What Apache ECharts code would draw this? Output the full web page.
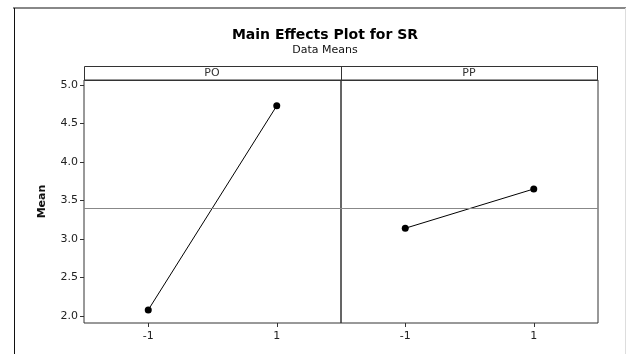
<!DOCTYPE html>
<html lang="en">
<head>
    <meta charset="utf-8" />
    <title>Main Effects Plot for SR</title>
    <script src="https://cdn.jsdelivr.net/npm/echarts@6/dist/echarts.min.js"></script>
    <style>
        html, body { margin: 0; padding: 0; background: #fff; }
        #chart { width: 626px; height: 354px; }
    </style>
</head>
<body>
    <div id="chart"></div>
    <script>
        // data
        var factors = ['PO', 'PP'];
        var levels = [-1, 1];
        var poMeans = [2.08, 4.73];
        var ppMeans = [3.14, 3.65];
        var grandMean = 3.40;
        var yTicks = [2.0, 2.5, 3.0, 3.5, 4.0, 4.5, 5.0];

        var font = 'DejaVu Sans';
        var myChart = echarts.init(document.getElementById('chart'));

        function pts(means) {
            return levels.map(function (lv, i) { return [lv, means[i]]; });
        }

        function xAxisFor(idx) {
            return {
                type: 'value', gridIndex: idx, min: -2, max: 2, position: 'bottom',
                axisLine: { show: false, onZero: false },
                splitLine: { show: false },
                axisTick: { show: true, length: 4, customValues: levels, lineStyle: { color: '#333' } },
                axisLabel: { customValues: levels, color: '#222', fontFamily: font, fontSize: 11, margin: 8 }
            };
        }

        function yAxisFor(idx) {
            return {
                type: 'value', gridIndex: idx, min: 1.91, max: 5.065, position: 'left',
                axisLine: { show: false, onZero: false },
                splitLine: { show: false },
                axisTick: { show: idx === 0, length: 4, customValues: yTicks, lineStyle: { color: '#333' } },
                axisLabel: {
                    show: idx === 0, customValues: yTicks, color: '#222', fontFamily: font, fontSize: 11, margin: 6,
                    formatter: function (v) { return v.toFixed(1); }
                },
                name: idx === 0 ? 'Mean' : '',
                nameLocation: 'middle', nameGap: 36, nameRotate: 90,
                nameTextStyle: { fontFamily: font, fontSize: 11, fontWeight: 'bold', color: '#111' }
            };
        }

        function seriesFor(idx, means) {
            return {
                type: 'line', xAxisIndex: idx, yAxisIndex: idx,
                data: pts(means),
                symbol: 'circle', symbolSize: 7,
                itemStyle: { color: '#000' },
                lineStyle: { color: '#000', width: 1 },
                animation: false,
                markLine: {
                    silent: true, symbol: 'none', label: { show: false },
                    lineStyle: { color: '#888', width: 1, type: 'solid' },
                    data: [{ yAxis: grandMean }]
                }
            };
        }

        var option = {
            backgroundColor: '#fff',
            animation: false,
            title: [
                { text: 'Main Effects Plot for SR', left: 320, top: 23, textAlign: 'center',
                  textStyle: { fontFamily: font, fontSize: 14, fontWeight: 'bold', color: '#000' } },
                { text: 'Data Means', left: 320, top: 40, textAlign: 'center',
                  textStyle: { fontFamily: font, fontSize: 11, fontWeight: 'normal', color: '#111' } },
                { text: factors[0], left: 212, top: 66, textAlign: 'center', padding: 0,
                  textStyle: { fontFamily: font, fontSize: 11, fontWeight: 'normal', color: '#333', lineHeight: 14 } },
                { text: factors[1], left: 469, top: 66, textAlign: 'center', padding: 0,
                  textStyle: { fontFamily: font, fontSize: 11, fontWeight: 'normal', color: '#333', lineHeight: 14 } }
            ],
            grid: [
                { left: 84, top: 80, width: 257, height: 243, show: true, borderColor: '#333', borderWidth: 1, backgroundColor: 'transparent' },
                { left: 341, top: 80, width: 257, height: 243, show: true, borderColor: '#333', borderWidth: 1, backgroundColor: 'transparent' }
            ],
            xAxis: [xAxisFor(0), xAxisFor(1)],
            yAxis: [yAxisFor(0), yAxisFor(1)],
            series: [seriesFor(0, poMeans), seriesFor(1, ppMeans)],
            graphic: [
                // strip header
                { type: 'rect', shape: { x: 84.5, y: 66.5, width: 513, height: 14 },
                  style: { fill: 'none', stroke: '#333', lineWidth: 1 } },
                { type: 'line', shape: { x1: 341.5, y1: 66, x2: 341.5, y2: 80 },
                  style: { stroke: '#333', lineWidth: 1 } },
                // outer frame
                { type: 'line', shape: { x1: 13, y1: 8, x2: 626, y2: 8 },
                  style: { stroke: '#888', lineWidth: 2 } },
                { type: 'line', shape: { x1: 14.5, y1: 8, x2: 14.5, y2: 354 },
                  style: { stroke: '#111', lineWidth: 1 } },
                { type: 'line', shape: { x1: 625.5, y1: 8, x2: 625.5, y2: 354 },
                  style: { stroke: '#ddd', lineWidth: 1 } }
            ]
        };
        myChart.setOption(option);
    </script>
</body>
</html>
